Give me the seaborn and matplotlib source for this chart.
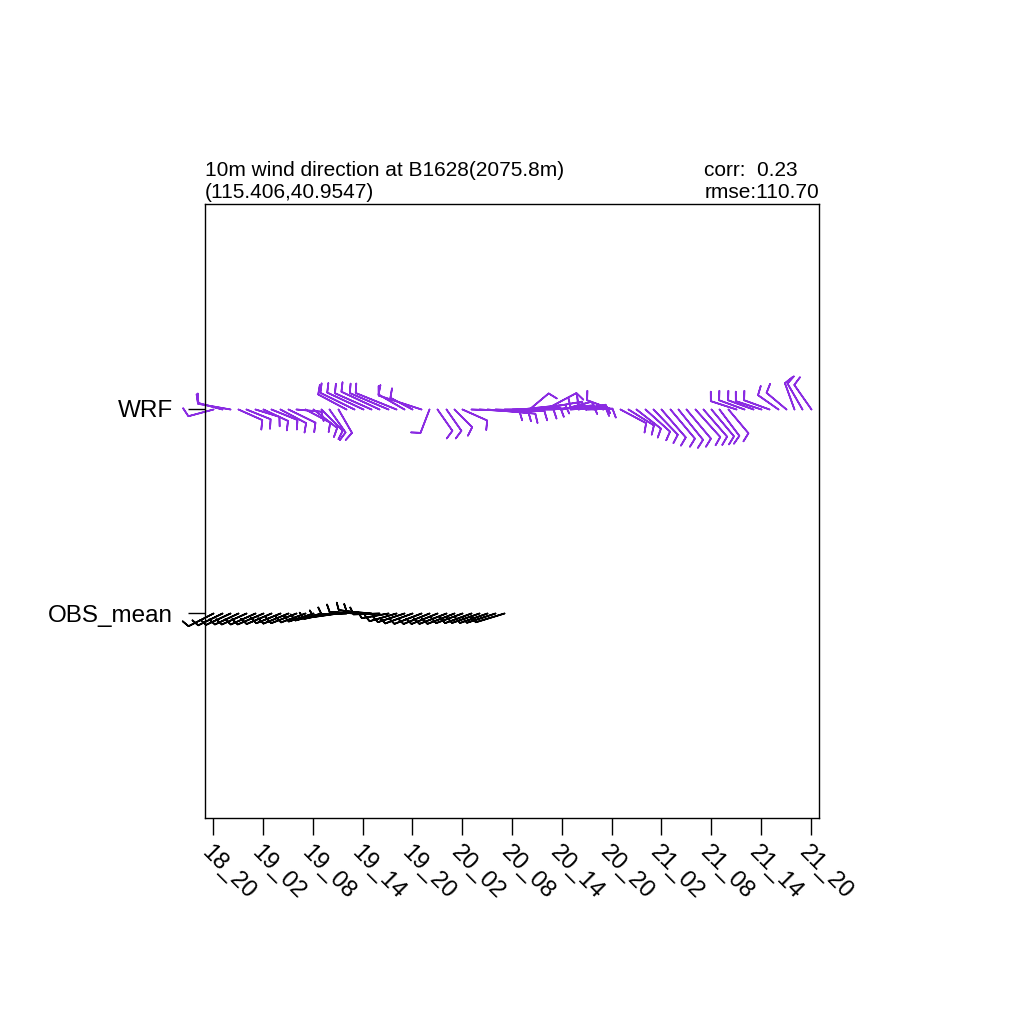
import numpy as np
import matplotlib
matplotlib.use("Agg")
import matplotlib.pyplot as plt
import seaborn as sns

# hourly data from 18_20 onwards
time_labels = ["18_20", "19_02", "19_08", "19_14", "19_20", "20_02", "20_08",
               "20_14", "20_20", "21_02", "21_08", "21_14", "21_20"]

wrf_hours = np.arange(73)
# wind direction (deg, from) and speed (m/s) for WRF
wrf_dir = [255, 285, 280,
           114, 112, 107, 115, 112, 118, 116, 95, 118, 128, 135, 145, 150,
           298, 296, 295, 294, 295, 293, 292, 300, 298, 288,
           201, 145, 145, 135, 114,
           92, 93, 95, 92, 90, 88, 84, 50, 80, 62, 84, 75, 86, 80, 88,
           275, 282, 290,
           118, 122, 128, 132, 136, 139, 140, 141, 140, 138, 139, 140, 143, 140,
           288, 290, 290, 288, 290, 305, 310, 340, 330, 325]
wrf_spd = [5.2, 5.0, 6.6,
           5.2, 5.2, 5.0, 5.4, 5.6, 5.8, 6.0, 5.0, 5.6, 6.0, 6.0, 5.6, 5.4,
           6.4, 7.6, 8.0, 8.0, 8.4, 8.4, 8.8, 6.0, 5.0, 9.0,
           5.0, 5.2, 5.2, 5.0, 5.4,
           9.6, 9.8, 9.6, 9.8, 9.8, 9.6, 9.0, 5.0, 9.0, 7.0, 8.0, 6.0, 7.0, 5.5, 5.0,
           5.0, 5.2, 5.4,
           5.8, 6.0, 6.2, 6.6, 7.0, 7.4, 7.6, 7.8, 7.6, 7.4, 7.2, 7.0, 6.6, 6.2,
           5.4, 5.4, 5.4, 5.4, 5.4, 5.0, 5.2, 5.6, 6.0, 6.0]

obs_hours = np.arange(36)
obs_dir = [243, 244, 245, 245, 246, 246, 247, 247, 248, 248, 249, 250, 252, 255, 258,
           262, 268, 274, 278, 275, 268, 260,
           254, 252, 250, 249, 248, 248, 249, 249, 250, 250, 251, 251, 252, 253]
obs_spd = [5.6, 5.4, 5.4, 5.2, 5.4, 5.4, 5.6, 5.4, 5.2, 5.4, 5.4, 5.2, 5.2, 5.4, 5.2,
           5.0, 5.0, 5.0, 5.0, 5.0, 5.2, 5.4,
           5.6, 5.6, 5.8, 5.8, 5.6, 5.6, 5.8, 5.8, 5.6, 5.6, 5.8, 5.8, 6.0, 6.0]

series_names = ["OBS_mean", "WRF"]

sns.set_theme(style="ticks", rc={"text.color": "black", "axes.labelcolor": "black",
                                 "xtick.color": "black", "ytick.color": "black",
                                 "axes.edgecolor": "black"})
plt.rcParams['font.family'] = ['Liberation Sans', 'DejaVu Sans']

DPI = 100
fig = plt.figure(figsize=(10.24, 10.24), dpi=DPI)
ax = fig.add_axes([205 / 1024, 206 / 1024, 614 / 1024, 614 / 1024])

PX_PER_MS = 5.0   # staff length grows with speed


def draw_barbs(hours, dirs, spds, ypos, color, tick_px):
    for h, d, s in zip(hours, dirs, spds):
        rad = np.deg2rad(d)
        u = -s * np.sin(rad)
        v = -s * np.cos(rad)
        staff = PX_PER_MS * s
        L = np.sqrt(2 * staff * 72 / DPI)
        ax.barbs([h], [ypos], [u], [v], length=L, pivot='tip',
                 sizes=dict(height=tick_px / staff, width=6 / staff,
                            spacing=4 / staff),
                 barb_increments=dict(half=100, full=5, flag=500),
                 rounding=False, barbcolor=color, linewidth=1.2,
                 clip_on=False)


draw_barbs(wrf_hours, wrf_dir, wrf_spd, 2, "#8A2BE2", 9.0)
draw_barbs(obs_hours, obs_dir, obs_spd, 1, "black", 7.0)

ax.set_xlim(-1, 73)
ax.set_ylim(0, 3)
ax.set_xticks(np.arange(0, 73, 6))
ax.set_xticklabels(time_labels, rotation=-45, ha='left', va='top',
                   rotation_mode='anchor', fontsize=17)
ax.set_yticks([1, 2])
ax.set_yticklabels(series_names, fontsize=17.5)
ax.tick_params(axis='both', direction='out', length=12, width=1.0,
               color='black', labelcolor='black')
ax.tick_params(axis='y', pad=11)
ax.tick_params(axis='x', pad=5)
for sp in ax.spines.values():
    sp.set_visible(True)
    sp.set_color('black')
    sp.set_linewidth(1.0)
ax.set_facecolor('white')

ax.text(0, 1.004, "10m wind direction at B1628(2075.8m)\n(115.406,40.9547)",
        transform=ax.transAxes, ha='left', va='bottom', fontsize=15,
        linespacing=1.15, color='black')
ax.text(1.0, 1.004, "corr:  0.23\nrmse:110.70",
        transform=ax.transAxes, ha='right', va='bottom', fontsize=15,
        multialignment='left', linespacing=1.15, color='black')

fig.savefig("out.png", dpi=DPI, facecolor='white')
